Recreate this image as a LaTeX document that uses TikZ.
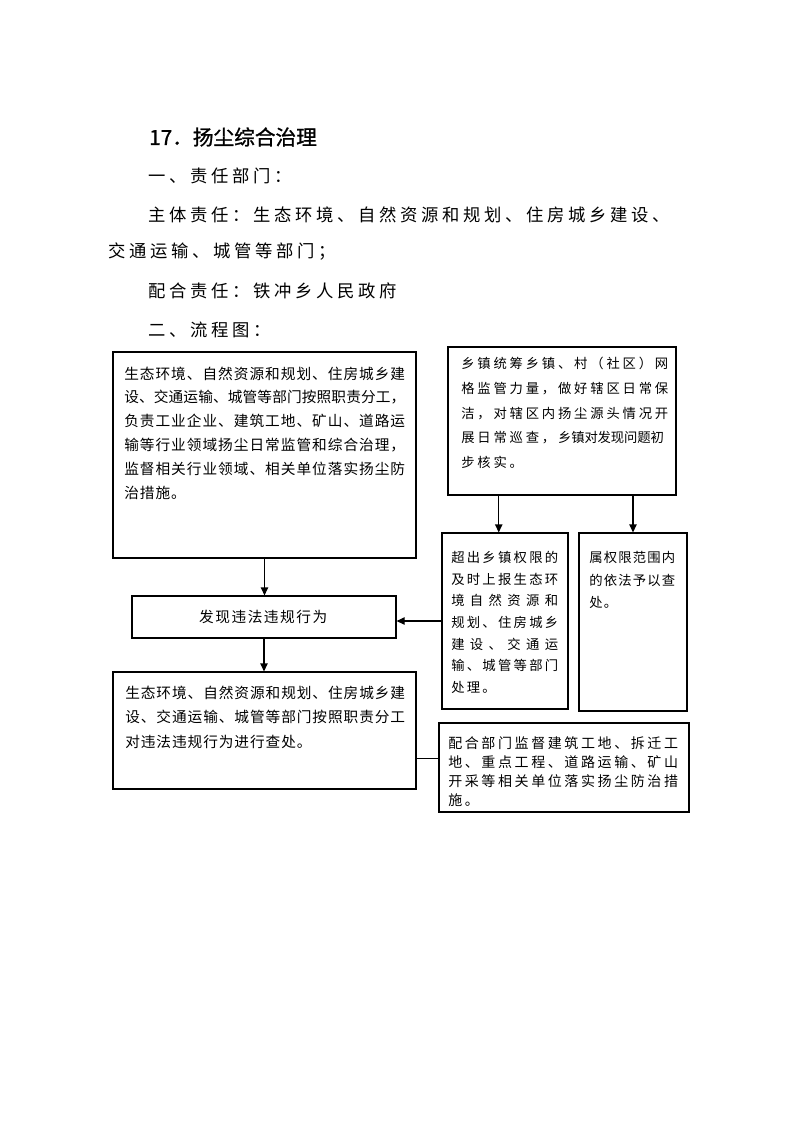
\documentclass[tikz,border=0pt]{standalone}
\usepackage{fontspec}
\newfontfamily\cjk{Noto Sans CJK SC}
\newfontfamily\cjkb[FakeBold=1.2]{Noto Sans CJK SC}
\usetikzlibrary{arrows.meta,fit,calc}
\makeatletter
\newcommand\pch[2]{\def\pch@w{#1}\@tfor\pch@c:=#2\do{\hbox to \dimexpr\pch@w pt*3/4\relax{\pch@c\hss}}}
\makeatother
\tikzset{
  box/.style={draw, line width=0.9pt, inner sep=0pt},
  txt/.style={inner sep=0pt, anchor=north west, align=left},
  line1/.style={inner sep=0pt, anchor=west},
  body/.style={line1, font={\cjk\fontsize{13}{15}\selectfont}},
  arr/.style={line width=0.9pt, -{Triangle[length=6pt,width=5.5pt]}},
  ln/.style={line width=0.9pt},
}
\begin{document}
\begin{tikzpicture}[x=0.75pt,y=-0.75pt]
\useasboundingbox (0,0) rectangle (793,1122);
% heading and body text
\node[line1, font={\cjkb\fontsize{15.5}{18}\selectfont}] (h) at (149,137) {17．扬尘综合治理};
\node[body] (t1) at (148,176) {\pch{21}{一、责任部门：}};
\node[body] (t2) at (148,215) {\pch{21}{主体责任：生态环境、自然资源和规划、住房城乡建设、}};
\node[body] (t3) at (108,252) {\pch{21}{交通运输、城管等部门；}};
\node[body] (t4) at (148,291) {\pch{21}{配合责任：铁冲乡人民政府}};
\node[body] (t5) at (148,330) {\pch{21}{二、流程图：}};
% boxes
\node[box, fit={(113,352) (416,558)}] (A) {};
\node[box, fit={(448,347) (676,495)}] (B) {};
\node[box, fit={(442,533) (568,709)}] (C) {};
\node[box, fit={(579,533) (687,711)}] (D) {};
\node[box, fit={(132,596) (396,638)}] (E) {};
\node[box, fit={(113,672) (416,789)}] (F) {};
\node[box, fit={(439,723) (689,812)}] (G) {};
% box texts
\node[txt, font={\cjk\fontsize{11}{17.85}\selectfont}] (At) at (124,366.4) {%
\pch{15.66}{生态环境、自然资源和规划、住房城乡建}\\
\pch{14.8}{设、交通运输、城管等部门按照职责分工，}\\
\pch{15.66}{负责工业企业、建筑工地、矿山、道路运}\\
\pch{15.66}{输等行业领域扬尘日常监管和综合治理，}\\
\pch{15.66}{监督相关行业领域、相关单位落实扬尘防}\\
\pch{15.66}{治措施。}};
\node[txt, font={\cjk\fontsize{10}{18.5}\selectfont}] (Bt) at (461,357) {%
\pch{16.14}{乡镇统筹乡镇、村（社区）网}\\
\pch{16.14}{格监管力量，做好辖区日常保}\\
\pch{16.14}{洁，对辖区内扬尘源头情况开}\\
\pch{16.14}{展日常巡查，}\pch{13.2}{乡镇对发现问题初}\\
\pch{16.14}{步核实。}};
\node[txt, font={\cjk\fontsize{10}{16.25}\selectfont}] (Ct) at (451,551) {%
\pch{15.6}{超出乡镇权限的}\\
\pch{15.6}{及时上报生态环}\\
\pch{18.7}{境自然资源和}\\
\pch{15.6}{规划、住房城乡}\\
\pch{18.7}{建设、交通运}\\
\pch{15.6}{输、城管等部门}\\
\pch{15.6}{处理。}};
\node[txt, font={\cjk\fontsize{10}{16.9}\selectfont}] (Dt) at (589,551) {%
\pch{14.5}{属权限范围内}\\
\pch{14.5}{的依法予以查}\\
\pch{14.5}{处。}};
\node[inner sep=0pt, font={\cjk\fontsize{11}{13}\selectfont}] (Et) at (264,617) {\pch{16.2}{发现违法违规行为}};
\node[txt, font={\cjk\fontsize{11}{18.4}\selectfont}] (Ft) at (125,685.4) {%
\pch{15.6}{生态环境、自然资源和规划、住房城乡建}\\
\pch{15.6}{设、交通运输、城管等部门按照职责分工}\\
\pch{15.6}{对违法违规行为进行查处。}};
\node[txt, font={\cjk\fontsize{10.5}{14.25}\selectfont}] (Gt) at (448,736.7) {%
\pch{16.6}{配合部门监督建筑工地、拆迁工}\\
\pch{16.6}{地、重点工程、道路运输、矿山}\\
\pch{16.6}{开采等相关单位落实扬尘防治措}\\
\pch{16.6}{施。}};
% connectors
\draw[arr] (A.south) -- (A.south |- E.north);
\draw[arr] (E.south) -- (E.south |- F.north);
\coordinate (bc) at ($(B.south west)!0.224!(B.south east)$);
\draw[arr] (bc) -- (bc |- C.north);
\draw[arr] (D.north |- B.south) -- (D.north);
\draw[arr] (C.west) -- (C.west -| E.east);
\coordinate (fg) at ($(F.north east)!0.735!(F.south east)$);
\draw[ln] (fg) -- (fg -| G.west);
\end{tikzpicture}
\end{document}
